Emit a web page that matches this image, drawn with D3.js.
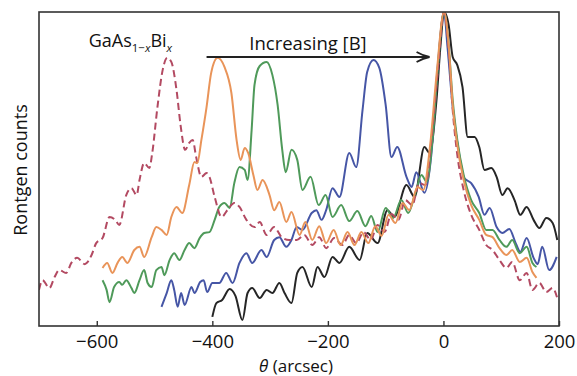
<!DOCTYPE html>
<html>
<head>
<meta charset="utf-8">
<script src="https://cdn.jsdelivr.net/npm/d3@7"></script>
<style>
  body { margin: 0; background: #fff; }
  svg { font-family: "Open Sans", "Noto Sans", sans-serif; }
</style>
</head>
<body>
<script>
// x-ray rocking curves, theta (arcsec) vs counts (arbitrary units, 0-100)

var width = 577,
    height = 376,
    margin = {top: 12, right: 18, bottom: 50, left: 39};

var xTicks = [-600, -400, -200, 0, 200];

// series ordered by increasing [B] (peak moves toward 0)
var gaasBi = [[-700,11.5],[-694,14.6],[-682,12.1],[-673,15.6],[-665,17.8],[-653,16.9],[-644,20.1],[-634,21.7],
  [-621,19.7],[-609,22.6],[-601,26.4],[-590,28.0],[-578,34.7],[-568,33.8],[-561,32.2],[-549,41.7],[-540,43.9],
  [-531,41.7],[-526,46.5],[-518,51.9],[-509,50.3],[-504,55.1],[-495,69.7],[-486,81.5],[-478,85.4],[-471,84.1],
  [-462,75.2],[-455,64.0],[-447,56.1],[-440,58.3],[-434,59.2],[-428,53.8],[-419,47.5],[-410,48.7],[-405,47.5],
  [-396,41.1],[-384,34.7],[-374,36.9],[-362,39.2],[-353,37.9],[-341,33.8],[-327,31.5],[-318,33.1],[-306,29.0],
  [-293,31.5],[-280,28.3],[-267,27.4],[-254,27.4],[-241,29.0],[-227,25.8],[-215,28.3],[-203,24.8],[-189,28.0],
  [-175,25.8],[-163,29.0],[-151,26.4],[-138,29.9],[-126,27.4],[-114,32.2],[-102,29.9],[-90,35.7],[-78,33.8],
  [-66,40.1],[-54,38.5],[-42,45.5],[-31,44.9],[-21,59.2],[-10,80.9],[1,100],[9,87.9],[16,68.8],[24,54.5],
  [35,43.3],[48,35.4],[62,30.6],[74,25.8],[85,24.2],[97,21.0],[109,18.5],[119,20.4],[132,14.6],[144,16.9],
  [154,11.5],[166,13.7],[178,10.8],[189,12.1],[197,8.9]];

var orange = [[-590,18.5],[-582,20.1],[-573,16.9],[-564,20.1],[-556,22.0],[-547,20.1],[-535,24.2],[-526,25.2],
  [-518,22.0],[-505,28.3],[-497,31.5],[-488,30.6],[-479,29.0],[-471,34.7],[-462,37.9],[-452,36.0],[-440,44.9],
  [-431,52.2],[-426,51.9],[-419,59.2],[-410,69.7],[-402,80.6],[-391,85.4],[-379,82.5],[-367,74.2],[-358,59.2],
  [-351,52.9],[-344,56.7],[-338,55.1],[-329,48.1],[-322,43.3],[-313,46.5],[-301,41.7],[-293,36.9],[-284,39.5],
  [-272,33.1],[-263,36.3],[-249,29.0],[-239,33.1],[-227,27.4],[-215,31.8],[-203,26.4],[-190,30.6],[-178,25.8],
  [-166,29.9],[-154,25.8],[-142,29.9],[-130,26.4],[-118,31.8],[-107,28.7],[-95,35.4],[-83,32.8],[-71,39.2],
  [-59,36.9],[-45,44.3],[-35,43.3],[-23,57.6],[-12,79.9],[1,100],[9,89.5],[16,70.4],[24,57.6],[35,46.5],
  [48,38.5],[62,33.8],[74,29.0],[85,28.3],[97,24.8],[109,22.6],[119,24.2],[132,20.4],[144,21.7],[154,17.2],
  [161,15.3]];

var green = [[-590,14.6],[-583,11.5],[-578,7.6],[-570,12.4],[-561,14.0],[-556,13.1],[-549,14.6],[-540,12.1],
  [-535,10.5],[-526,14.6],[-518,17.8],[-512,13.7],[-505,12.4],[-497,17.8],[-488,18.8],[-483,16.2],[-474,21.0],
  [-466,23.2],[-457,21.0],[-448,24.2],[-440,26.4],[-431,24.8],[-422,28.0],[-414,29.6],[-405,29.9],[-396,33.8],
  [-388,37.9],[-379,39.2],[-370,37.6],[-362,45.5],[-353,50.6],[-344,49.7],[-339,46.5],[-332,62.4],[-327,76.8],
  [-318,82.8],[-306,84.1],[-296,79.9],[-287,70.4],[-279,56.1],[-273,49.0],[-263,56.1],[-253,52.9],[-244,43.3],
  [-230,47.5],[-216,38.5],[-204,41.7],[-192,34.7],[-177,38.5],[-163,33.4],[-149,36.6],[-135,31.8],[-125,35.0],
  [-114,29.9],[-100,37.6],[-87,34.4],[-73,40.1],[-61,36.0],[-48,42.7],[-38,48.1],[-29,45.9],[-19,59.2],
  [-10,81.5],[1,100],[9,89.5],[16,72.0],[24,59.2],[35,48.1],[48,40.1],[62,36.0],[74,30.6],[85,30.6],[97,27.4],
  [109,25.2],[119,27.4],[132,23.2],[144,25.2],[154,20.1],[161,18.8]];

var blue = [[-488,6.1],[-479,10.5],[-471,14.6],[-466,11.5],[-460,6.1],[-454,10.5],[-448,6.7],[-436,12.4],
  [-431,10.5],[-421,14.0],[-415,14.6],[-409,10.8],[-400,13.7],[-388,13.7],[-376,16.9],[-365,13.7],[-353,20.1],
  [-341,23.2],[-331,20.1],[-315,24.2],[-306,22.0],[-293,27.4],[-284,28.3],[-272,25.2],[-263,27.4],[-254,31.5],
  [-244,30.6],[-228,36.0],[-220,36.9],[-211,33.8],[-203,36.9],[-192,43.9],[-180,41.1],[-163,55.1],[-151,50.6],
  [-140,68.8],[-132,80.9],[-121,84.7],[-111,82.2],[-100,70.4],[-90,53.8],[-80,57.0],[-64,47.5],[-55,44.3],
  [-47,49.0],[-33,42.4],[-21,54.5],[-10,82.5],[1,100],[7,88.9],[16,69.7],[28,53.8],[36,47.1],[48,45.5],
  [61,41.1],[71,35.4],[80,37.6],[92,31.5],[102,29.6],[114,30.9],[125,26.4],[133,23.6],[144,28.0],[156,21.7],
  [163,19.7],[171,25.2],[183,17.8],[196,22.0]];

var black = [[-400,2.9],[-393,7.3],[-383,8.3],[-370,11.8],[-360,9.6],[-348,1.9],[-339,10.5],[-331,12.1],
  [-318,8.9],[-306,11.5],[-296,10.5],[-284,13.7],[-275,10.5],[-263,7.3],[-253,16.9],[-244,18.8],[-228,12.4],
  [-218,18.8],[-206,15.6],[-192,22.0],[-180,20.1],[-163,25.2],[-145,21.0],[-132,29.6],[-114,26.4],[-97,36.9],
  [-85,34.7],[-64,44.9],[-50,41.1],[-33,57.0],[-24,55.1],[-12,72.0],[-5,89.5],[1,100],[9,95.9],[16,85.7],
  [24,83.1],[33,76.1],[42,60.2],[54,60.2],[62,57.0],[71,49.7],[83,50.3],[92,47.5],[102,41.7],[111,43.9],
  [123,40.1],[133,35.4],[144,37.9],[156,33.8],[166,31.2],[178,34.4],[189,32.8],[197,27.4]];

var series = [
  {name: "black", values: black, color: "#262626", dash: null},
  {name: "blue", values: blue, color: "#4656a6", dash: null},
  {name: "green", values: green, color: "#4f9a5a", dash: null},
  {name: "gaasBi", values: gaasBi, color: "#b34a62", dash: "7,4"},
  {name: "orange", values: orange, color: "#e99459", dash: null}
];

var x = d3.scaleLinear().domain([-700, 200]).range([margin.left, width - margin.right]);
var y = d3.scaleLinear().domain([0, 100]).range([height - margin.bottom, margin.top]);

var svg = d3.select("body").append("svg")
    .attr("width", width)
    .attr("height", height);

svg.append("clipPath").attr("id", "plot")
  .append("rect")
    .attr("x", margin.left).attr("y", margin.top)
    .attr("width", width - margin.left - margin.right)
    .attr("height", height - margin.top - margin.bottom);

var line = d3.line()
    .x(function(d) { return x(d[0]); })
    .y(function(d) { return y(d[1]); })
    .curve(d3.curveMonotoneX);

svg.append("g").attr("clip-path", "url(#plot)")
  .selectAll("path")
  .data(series)
  .enter().append("path")
    .attr("d", function(d) { return line(d.values); })
    .attr("fill", "none")
    .attr("stroke", function(d) { return d.color; })
    .attr("stroke-width", 2)
    .attr("stroke-linejoin", "round")
    .attr("stroke-dasharray", function(d) { return d.dash; });

// frame
svg.append("rect")
    .attr("x", margin.left).attr("y", margin.top)
    .attr("width", width - margin.left - margin.right)
    .attr("height", height - margin.top - margin.bottom)
    .attr("fill", "none")
    .attr("stroke", "#333")
    .attr("stroke-width", 1.6);

var xAxis = svg.append("g")
    .attr("transform", "translate(0," + (height - margin.bottom) + ")")
    .call(d3.axisBottom(x).tickValues(xTicks).tickSizeInner(-5).tickSizeOuter(0).tickPadding(9));
xAxis.select(".domain").remove();
xAxis.selectAll(".tick line").attr("stroke", "#333").attr("stroke-width", 1.4);
xAxis.selectAll("text").attr("font-size", 18.5).attr("fill", "#111")
    .attr("font-family", "'Open Sans', sans-serif");

// axis titles
var xTitle = svg.append("text")
    .attr("x", 296).attr("y", 372)
    .attr("text-anchor", "middle")
    .attr("font-size", 17).attr("fill", "#111");
xTitle.append("tspan").attr("font-style", "italic").text("θ");
xTitle.append("tspan").text(" (arcsec)");

svg.append("text")
    .attr("transform", "translate(27,170) rotate(-90)")
    .attr("text-anchor", "middle")
    .attr("font-size", 18).attr("fill", "#111")
    .text("Rontgen counts");

// annotations
var label = svg.append("text")
    .attr("x", x(-614)).attr("y", 47)
    .attr("font-size", 18).attr("fill", "#111");
label.append("tspan").text("GaAs");
label.append("tspan").attr("font-size", 11.5).attr("dy", 5).text("1\u2212");
label.append("tspan").attr("font-size", 11.5).attr("font-style", "italic").text("x");
label.append("tspan").attr("dy", -5).text("Bi");
label.append("tspan").attr("font-size", 11.5).attr("font-style", "italic").attr("dy", 5).text("x");

svg.append("text")
    .attr("x", x(-336)).attr("y", 50)
    .attr("font-size", 18.5).attr("fill", "#111")
    .text("Increasing [B]");

var ay = 57, ax1 = x(-410), ax2 = x(-24);
svg.append("line")
    .attr("x1", ax1).attr("x2", ax2 - 1).attr("y1", ay).attr("y2", ay)
    .attr("stroke", "#222").attr("stroke-width", 2);
svg.append("path")
    .attr("d", "M" + (ax2 - 13) + "," + (ay - 5) + " Q" + (ax2 - 6) + "," + (ay - 1) + " " + ax2 + "," + ay +
               " Q" + (ax2 - 6) + "," + (ay + 1) + " " + (ax2 - 13) + "," + (ay + 5))
    .attr("fill", "none").attr("stroke", "#222").attr("stroke-width", 1.8);
</script>
</body>
</html>
